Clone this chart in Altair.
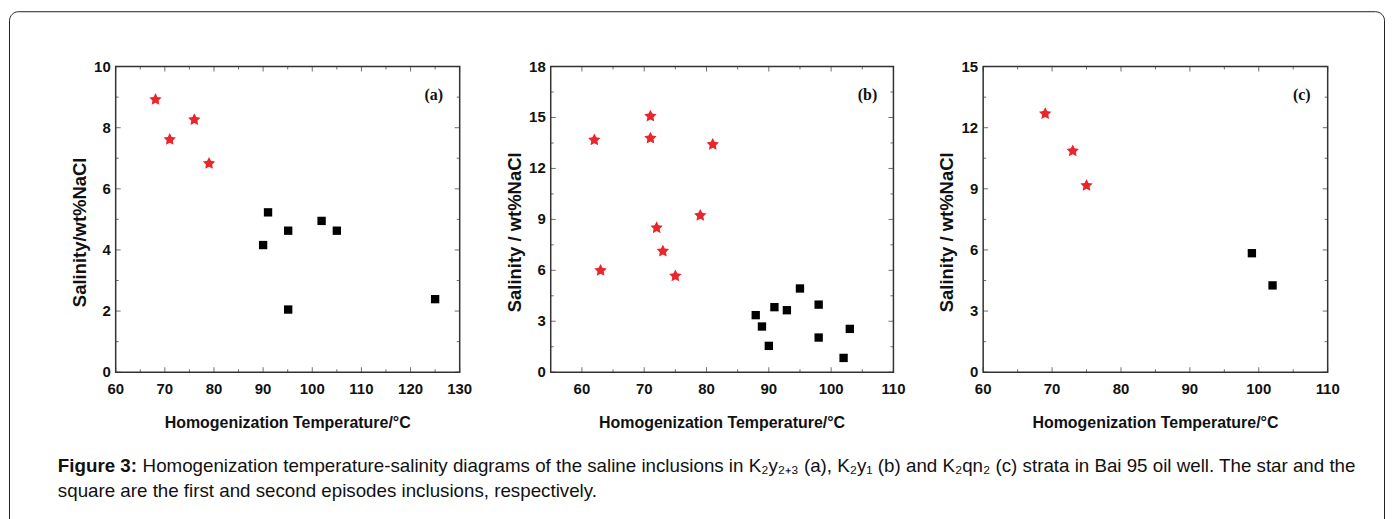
import math
import altair as alt
import pandas as pd

# ---------------- data ----------------
a_star_t = [68.1, 71.0, 76.0, 79.0]
a_star_s = [8.92, 7.61, 8.26, 6.83]
a_sq_t = [90.0, 91.0, 95.1, 101.9, 105.0, 95.1, 125.0]
a_sq_s = [4.16, 5.23, 4.63, 4.95, 4.63, 2.05, 2.39]

b_star_t = [62.0, 71.0, 71.0, 81.0, 79.0, 72.0, 73.0, 63.0, 75.0]
b_star_s = [13.68, 15.08, 13.78, 13.41, 9.23, 8.50, 7.13, 5.99, 5.67]
b_sq_t = [87.9, 88.9, 90.0, 90.9, 92.9, 95.0, 98.0, 98.0, 102.0, 103.0]
b_sq_s = [3.36, 2.69, 1.55, 3.83, 3.65, 4.93, 3.98, 2.04, 0.84, 2.55]

c_star_t = [69.0, 73.0, 75.0]
c_star_s = [12.69, 10.86, 9.16]
c_sq_t = [99.0, 102.0]
c_sq_s = [5.84, 4.26]

a_xticks = [60, 70, 80, 90, 100, 110, 120, 130]
a_yticks = [0, 2, 4, 6, 8, 10]
b_xticks = [60, 70, 80, 90, 100, 110]
b_yticks = [0, 3, 6, 9, 12, 15, 18]
c_xticks = [60, 70, 80, 90, 100, 110]
c_yticks = [0, 3, 6, 9, 12, 15]

XTITLE = "Homogenization Temperature/°C"
a_ytitle = "Salinity/wt%NaCl"
b_ytitle = "Salinity / wt%NaCl"
c_ytitle = "Salinity / wt%NaCl"

caption_bold = "Figure 3:"
caption_1 = ("Homogenization temperature-salinity diagrams of the saline inclusions in "
             "K₂y₂₊₃ (a), K₂y₁ (b) and K₂qn₂ (c) strata in Bai 95 oil well. The star and the")
caption_2 = "square are the first and second episodes inclusions, respectively."

# ---------------- styles ----------------
RED = "#e8262b"
FRAME = "#333333"
FONT = "Liberation Sans"
YB, YT = 364.5, 58

pts = []
for k in range(10):
    r = 1.0 if k % 2 == 0 else 0.5
    ang = -math.pi / 2 + k * math.pi / 5
    pts.append(f"{r * math.cos(ang):.3f},{r * math.sin(ang):.3f}")
STAR = "M" + "L".join(pts) + "Z"


def mids(t):
    return [(t[i] + t[i + 1]) / 2 for i in range(len(t) - 1)]


def panel(xdom, ydom, xr, xt, yt, star_t, star_s, sq_t, sq_s, ytitle, tag, xminor=None):
    sx = alt.Scale(domain=xdom, range=xr, nice=False, zero=False)
    sy = alt.Scale(domain=ydom, range=[YB, YT], nice=False, zero=False)
    xmn = xminor if xminor is not None else mids(xt)
    ymn = mids(yt)

    def XF(f):
        return alt.X(f, type="quantitative", scale=sx, axis=None)

    def YF(f):
        return alt.Y(f, type="quantitative", scale=sy, axis=None)

    def XD(v):
        return alt.XDatum(v, scale=sx, axis=None)

    def YD(v):
        return alt.YDatum(v, scale=sy, axis=None)

    xt_df = pd.DataFrame({"v": xt, "lab": [str(v) for v in xt]})
    yt_df = pd.DataFrame({"v": yt, "lab": [str(v) for v in yt]})
    xm_df = pd.DataFrame({"v": xmn})
    ym_df = pd.DataFrame({"v": ymn})

    layers = []
    layers.append(alt.Chart().mark_rect(filled=False, stroke=FRAME, strokeWidth=1.5).encode(
        x=XD(xdom[0]), x2=alt.X2Datum(xdom[1]), y=YD(ydom[0]), y2=alt.Y2Datum(ydom[1])))
    for df, ln in ((xt_df, 5), (xm_df, 3)):
        layers.append(alt.Chart(df).mark_tick(orient="vertical", size=ln, thickness=1,
                                              yOffset=-ln / 2, color=FRAME).encode(x=XF("v"), y=YD(ydom[0])))
        layers.append(alt.Chart(df).mark_tick(orient="vertical", size=ln, thickness=1,
                                              yOffset=ln / 2, color=FRAME).encode(x=XF("v"), y=YD(ydom[1])))
    for df, ln in ((yt_df, 5), (ym_df, 3)):
        layers.append(alt.Chart(df).mark_tick(orient="horizontal", size=ln, thickness=1,
                                              xOffset=ln / 2, color=FRAME).encode(y=YF("v"), x=XD(xdom[0])))
        layers.append(alt.Chart(df).mark_tick(orient="horizontal", size=ln, thickness=1,
                                              xOffset=-ln / 2, color=FRAME).encode(y=YF("v"), x=XD(xdom[1])))
    layers.append(alt.Chart(xt_df).mark_text(font=FONT, fontSize=15, fontWeight="bold", color="#111",
                                             baseline="middle", dy=17).encode(
        x=XF("v"), y=YD(ydom[0]), text="lab:N"))
    layers.append(alt.Chart(yt_df).mark_text(font=FONT, fontSize=15, fontWeight="bold", color="#111",
                                             baseline="middle", align="right", dx=-5).encode(
        x=XD(xdom[0]), y=YF("v"), text="lab:N"))
    layers.append(alt.Chart().mark_text(font=FONT, fontSize=16, fontWeight="bold", color="#111",
                                        baseline="middle", dy=51, text=XTITLE).encode(
        x=XD((xdom[0] + xdom[1]) / 2), y=YD(ydom[0])))
    layers.append(alt.Chart().mark_text(font=FONT, fontSize=18.5, fontWeight="bold", color="#111",
                                        baseline="middle", angle=270, xOffset=-36, yOffset=13,
                                        text=ytitle).encode(
        x=XD(xdom[0]), y=YD((ydom[0] + ydom[1]) / 2)))
    layers.append(alt.Chart().mark_text(font="Liberation Serif", fontSize=16, fontWeight="bold",
                                        color="#111", baseline="middle", xOffset=-26, yOffset=29,
                                        text=tag).encode(x=XD(xdom[1]), y=YD(ydom[1])))
    sq_df = pd.DataFrame({"t": sq_t, "s": sq_s})
    st_df = pd.DataFrame({"t": star_t, "s": star_s})
    layers.append(alt.Chart(sq_df).mark_point(shape="square", filled=True, size=70, color="black",
                                              opacity=1).encode(x=XF("t"), y=YF("s")))
    layers.append(alt.Chart(st_df).mark_point(shape=STAR, filled=True, size=170, color=RED,
                                              opacity=1).encode(x=XF("t"), y=YF("s")))
    return layers


lA = panel([60, 130], [0, 10], [108, 453], a_xticks, a_yticks, a_star_t, a_star_s, a_sq_t, a_sq_s,
           a_ytitle, "(a)")
lB = panel([55, 110], [0, 18], [544.3, 888], b_xticks, b_yticks, b_star_t, b_star_s, b_sq_t, b_sq_s,
           b_ytitle, "(b)", xminor=[65, 75, 85, 95, 105])
lC = panel([60, 110], [0, 15], [978, 1323.5], c_xticks, c_yticks, c_star_t, c_star_s, c_sq_t, c_sq_s,
           c_ytitle, "(c)")

border = alt.Chart().mark_rect(filled=False, stroke="#222", strokeWidth=1, cornerRadius=9).encode(
    x=alt.value(1.5), x2=alt.value(1380.5), y=alt.value(3), y2=alt.value(540))
cap_b = alt.Chart().mark_text(font=FONT, fontSize=18.8, fontWeight="bold", color="#111", align="left",
                              baseline="middle", text=caption_bold).encode(x=alt.value(50), y=alt.value(459))
cap_1 = alt.Chart().mark_text(font=FONT, fontSize=18.8, color="#111", align="left",
                              baseline="middle", text=caption_1).encode(x=alt.value(135), y=alt.value(459))
cap_2 = alt.Chart().mark_text(font=FONT, fontSize=18.8, color="#111", align="left",
                              baseline="middle", text=caption_2).encode(x=alt.value(50), y=alt.value(484))

chart = alt.layer(border, cap_b, cap_1, cap_2, *lA, *lB, *lC).resolve_scale(
    x="independent", y="independent"
).properties(width=1385, height=511, padding=0, autosize="none", background="white"
).configure_view(stroke=None)

chart.save("out.html", embed_options={"renderer": "svg", "actions": False})
